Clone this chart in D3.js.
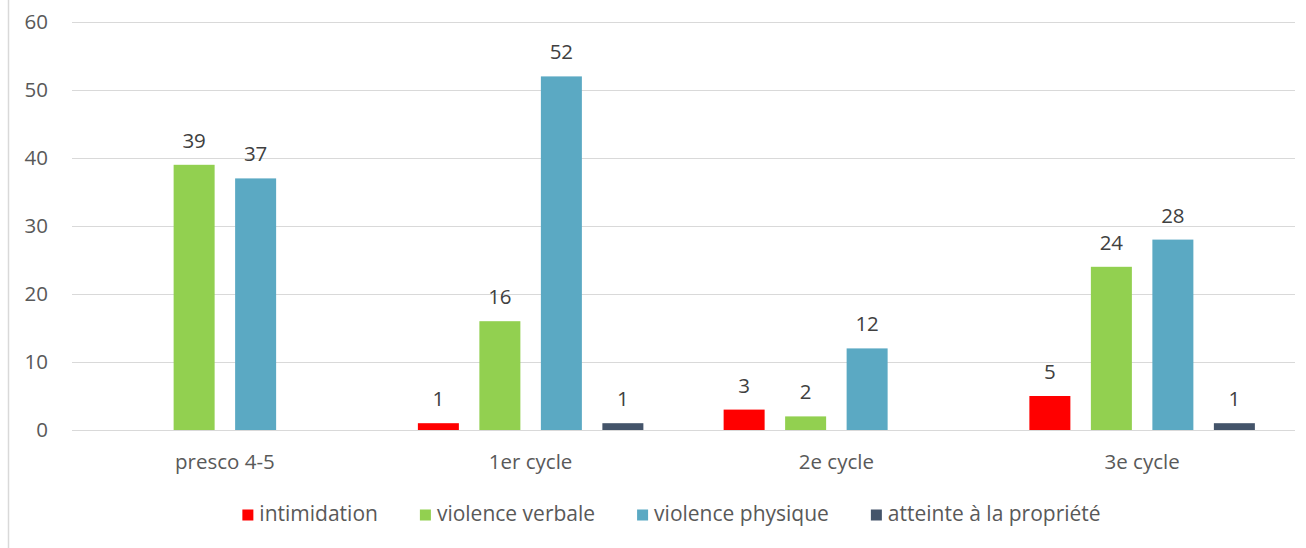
<!DOCTYPE html>
<html><head><meta charset="utf-8">
<script src="https://cdn.jsdelivr.net/npm/d3@7"></script>
<style>body{margin:0;background:#fff}svg{display:block}text{font-family:"Open Sans",sans-serif}</style>
</head><body><svg id="c" width="1306" height="548"></svg>
<script>
const categories = ["presco 4-5", "1er cycle", "2e cycle", "3e cycle"];
const seriesNames = ["intimidation", "violence verbale", "violence physique", "atteinte à la propriété"];
const intimidation = [null, 1, 3, 5];
const violenceVerbale = [39, 16, 2, 24];
const violencePhysique = [37, 52, 12, 28];
const atteintePropriete = [null, 1, null, 1];
const yTicks = [0, 10, 20, 30, 40, 50, 60];
const colors = ["#FF0000", "#92D050", "#5BA9C3", "#44546A"];
const seriesValues = [intimidation, violenceVerbale, violencePhysique, atteintePropriete];

const svg = d3.select("#c");
const L = 72, R = 1295, T = 22, B = 430;
const FS = 20.5;

svg.append("line").attr("x1", 8.5).attr("x2", 8.5).attr("y1", 0).attr("y2", 548)
  .attr("stroke", "#D9D9D9").attr("stroke-width", 1.5);

const y = d3.scaleLinear().domain([0, 60]).range([B, T]);
const x0 = d3.scaleBand().domain(categories).range([L, R]).padding(0);
const groupW = 225.5;
const x1 = d3.scaleBand().domain(seriesNames)
  .range([(x0.bandwidth() - groupW) / 2, (x0.bandwidth() + groupW) / 2])
  .paddingInner(1/3).paddingOuter(0);

// gridlines
svg.append("g").selectAll("line").data(yTicks).join("line")
  .attr("x1", L).attr("x2", R)
  .attr("y1", d => Math.round(y(d)) + 0.5).attr("y2", d => Math.round(y(d)) + 0.5)
  .attr("stroke", "#D9D9D9").attr("stroke-width", 1);

// y tick labels
svg.append("g").selectAll("text").data(yTicks).join("text")
  .attr("x", 48).attr("y", d => y(d)).attr("dy", "0.36em")
  .attr("text-anchor", "end").attr("font-size", FS).attr("fill", "#595959")
  .text(d => d);

// bars
const data = [];
categories.forEach((c, i) => seriesNames.forEach((s, j) => {
  const v = seriesValues[j][i];
  if (v != null) data.push({c, s, v, j});
}));
const g = svg.append("g");
g.selectAll("rect").data(data).join("rect")
  .attr("x", d => x0(d.c) + x1(d.s))
  .attr("width", x1.bandwidth())
  .attr("y", d => y(d.v))
  .attr("height", d => y(0) - y(d.v))
  .attr("fill", d => colors[d.j]);
g.selectAll("text").data(data).join("text")
  .attr("x", d => x0(d.c) + x1(d.s) + x1.bandwidth() / 2)
  .attr("y", d => y(d.v) - 17)
  .attr("text-anchor", "middle").attr("font-size", FS).attr("fill", "#404040")
  .text(d => d.v);

// category labels
svg.append("g").selectAll("text").data(categories).join("text")
  .attr("x", d => x0(d) + x0.bandwidth() / 2).attr("y", 469)
  .attr("text-anchor", "middle").attr("font-size", FS).attr("fill", "#595959")
  .text(d => d);

// legend
const lg = svg.append("g");
const items = lg.selectAll("g").data(seriesNames).join("g");
items.append("rect").attr("width", 11).attr("height", 11).attr("y", -11.5)
  .attr("fill", (d, i) => colors[i]);
items.append("text").attr("x", 17).attr("y", 0).attr("dy", "0.02em")
  .attr("font-size", 21).attr("fill", "#595959").text(d => d);
const GAP = 42;
let xpos = 0;
const widths = [];
items.each(function () { widths.push(this.getBBox().width); });
items.attr("transform", (d, i) => { const t = xpos; xpos += widths[i] + GAP; return `translate(${t},0)`; });
const total = xpos - GAP;
lg.attr("transform", `translate(${671.5 - total / 2},521)`);
</script></body></html>
